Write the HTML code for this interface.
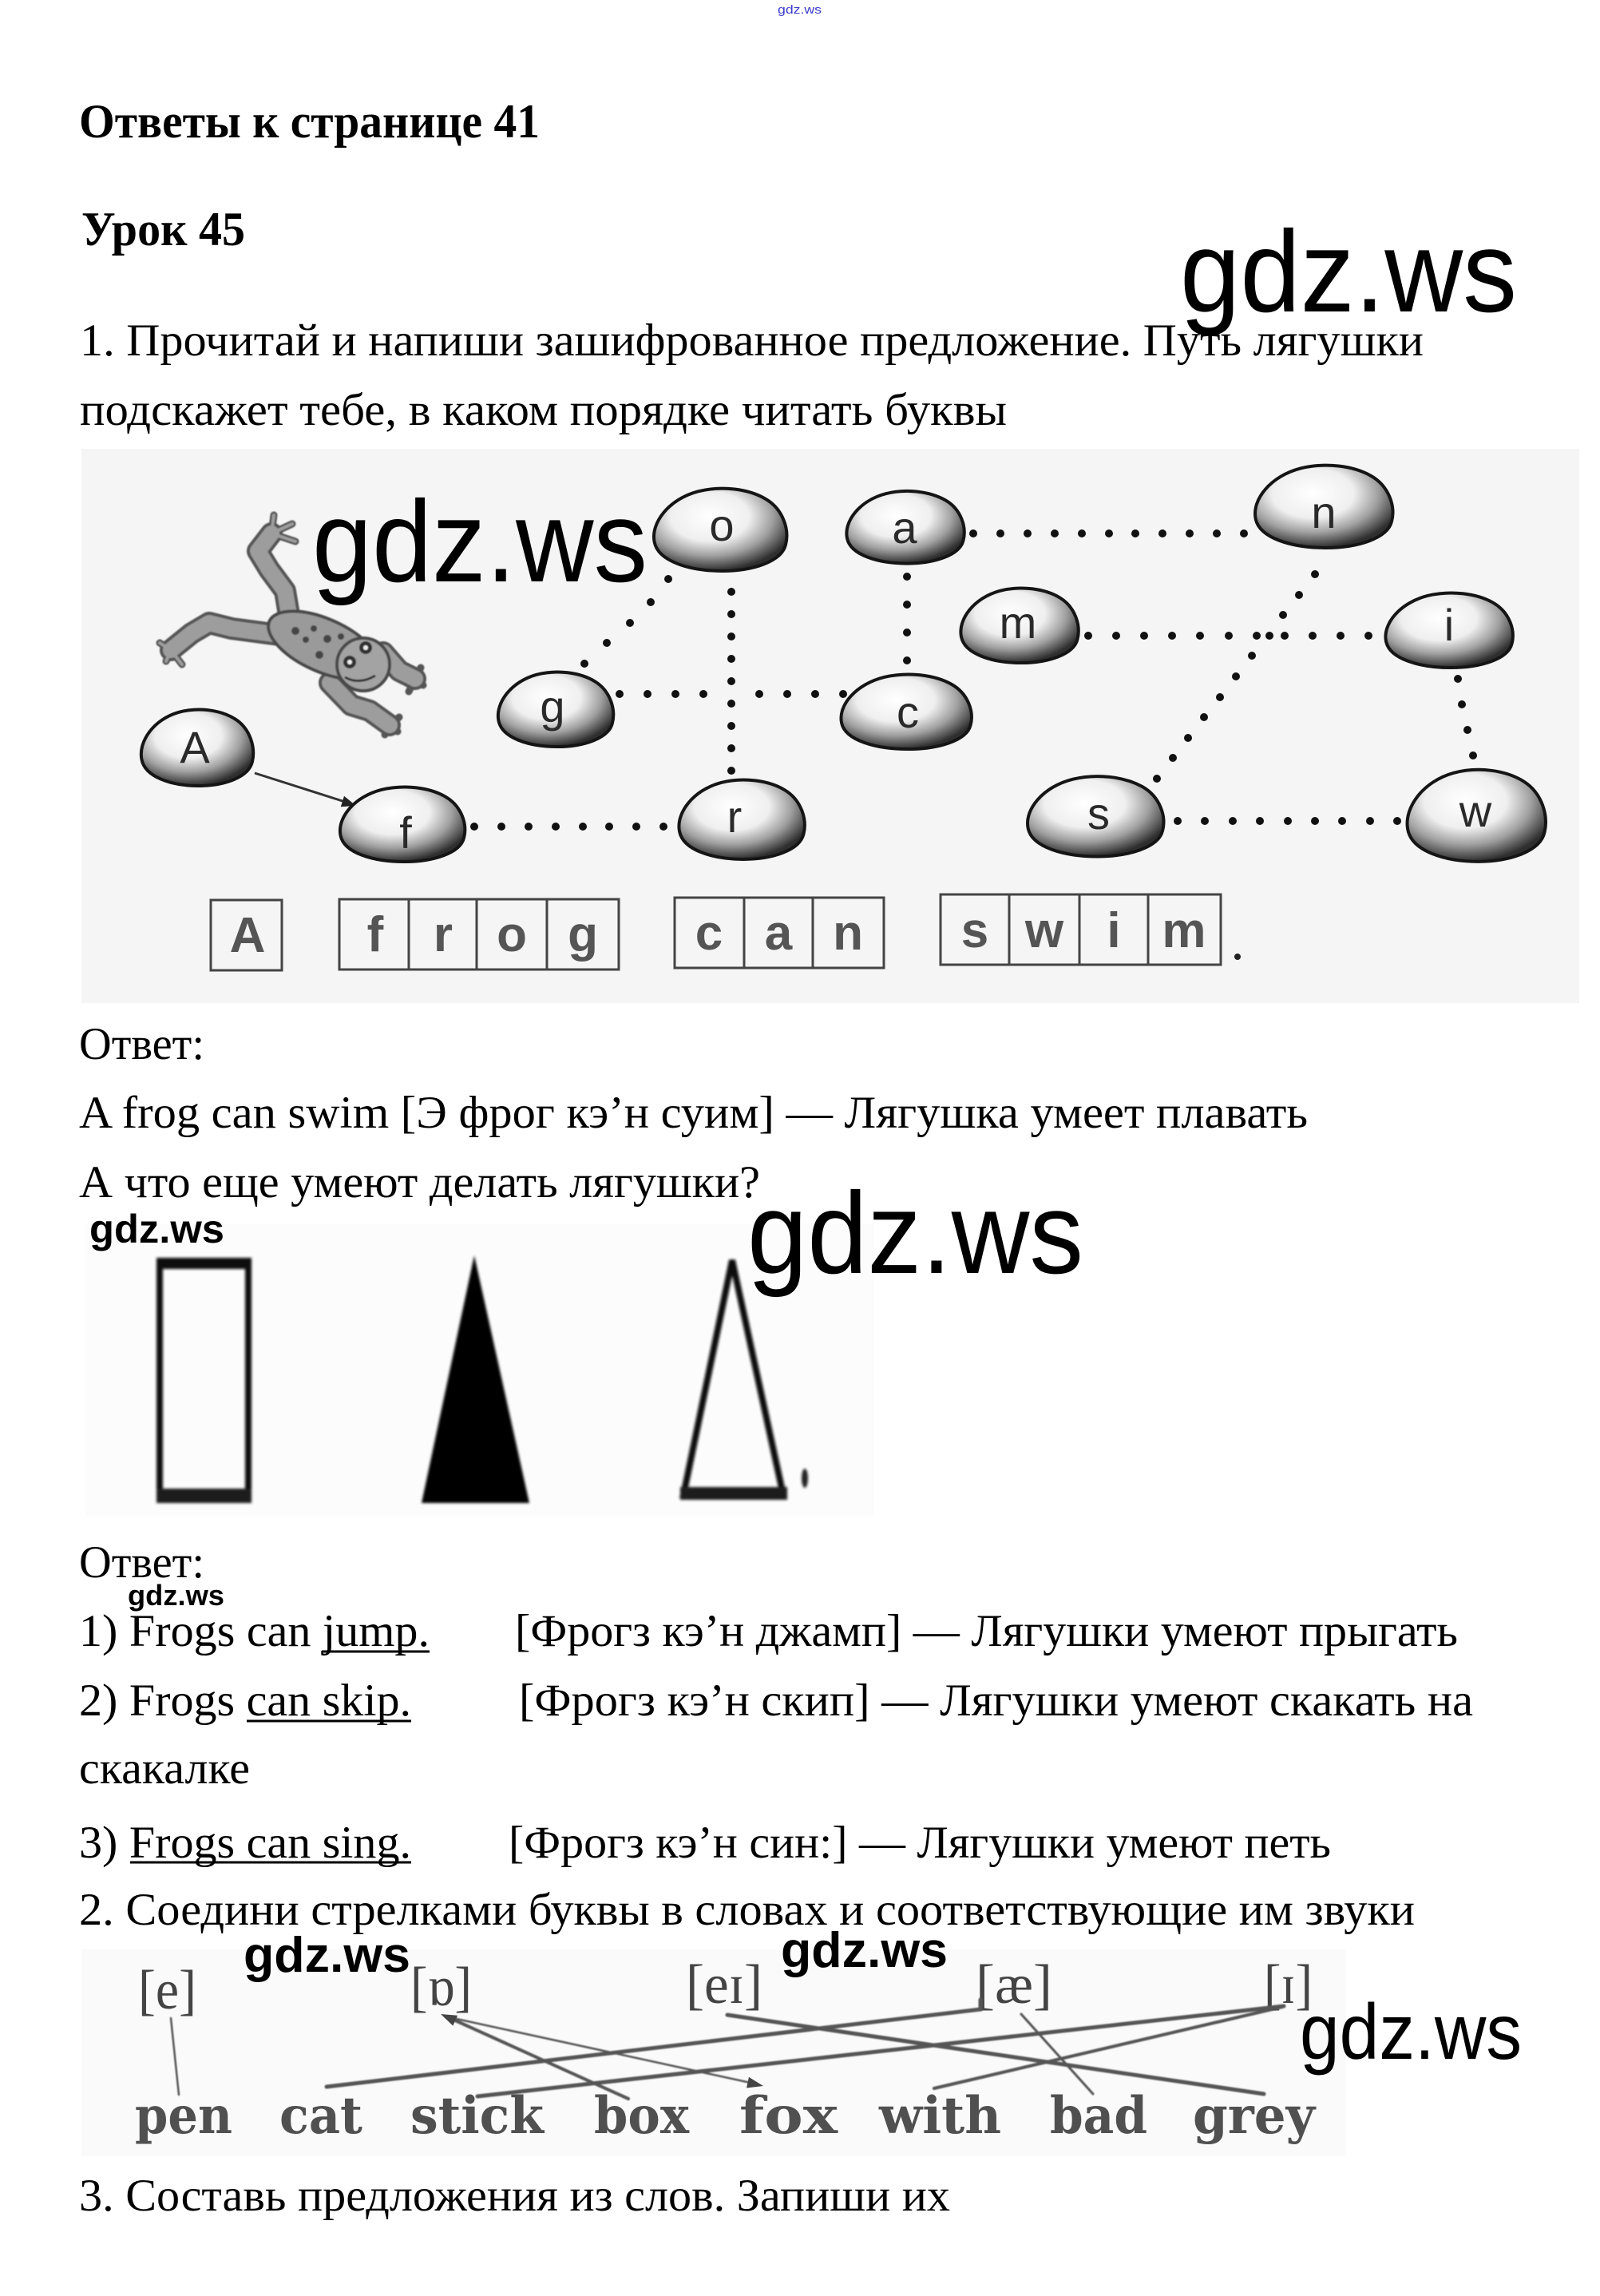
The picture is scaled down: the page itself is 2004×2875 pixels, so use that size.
<!DOCTYPE html>
<html>
<head>
<meta charset="utf-8">
<style>
html,body{margin:0;padding:0;background:#fff;}
svg{display:block;}
.t{font-family:"Liberation Serif","DejaVu Serif",serif;font-size:57px;fill:#000;}
.b{font-family:"Liberation Serif","DejaVu Serif",serif;font-size:60px;font-weight:bold;fill:#000;}
.wm{font-family:"Liberation Sans","DejaVu Sans",sans-serif;fill:#000;}
.sl{font-family:"Liberation Sans","DejaVu Sans",sans-serif;font-size:56px;fill:#2a2a2a;text-anchor:middle;}
.bl{font-family:"Liberation Sans","DejaVu Sans",sans-serif;font-size:62px;font-weight:bold;fill:#555;text-anchor:middle;}
.ph{font-family:"Liberation Serif","DejaVu Serif",serif;font-size:70px;fill:#444;}
.pw{font-family:"DejaVu Serif","Liberation Serif",serif;font-size:64px;font-weight:bold;fill:#505050;}
</style>
</head>
<body>
<svg xmlns="http://www.w3.org/2000/svg" width="2004" height="2875" viewBox="0 0 2004 2875">
<defs>
<radialGradient id="sg" cx="0.42" cy="0.34" r="0.66">
<stop offset="0" stop-color="#ffffff"/>
<stop offset="0.45" stop-color="#efefef"/>
<stop offset="0.72" stop-color="#a0a0a0"/>
<stop offset="1" stop-color="#2e2e2e"/>
</radialGradient>
<filter id="bl1" x="-5%" y="-5%" width="110%" height="110%"><feGaussianBlur stdDeviation="1.6"/></filter>
<filter id="bl2" x="-5%" y="-5%" width="110%" height="110%"><feGaussianBlur stdDeviation="0.8"/></filter>
</defs>

<rect width="2004" height="2875" fill="#fff"/>

<!-- tiny top watermark -->
<text x="974" y="17" font-family="Liberation Sans, sans-serif" font-size="15" fill="#3a3acc" textLength="55" lengthAdjust="spacingAndGlyphs">gdz.ws</text>

<!-- headings -->
<text class="b" x="99" y="172" textLength="577" lengthAdjust="spacingAndGlyphs">Ответы к странице 41</text>
<text class="b" x="102" y="307" textLength="205" lengthAdjust="spacingAndGlyphs">Урок 45</text>
<text class="t" x="100" y="445" textLength="1683" lengthAdjust="spacingAndGlyphs">1. Прочитай и напиши зашифрованное предложение. Путь лягушки</text>
<text class="t" x="100" y="532" textLength="1161" lengthAdjust="spacingAndGlyphs">подскажет тебе, в каком порядке читать буквы</text>

<!-- ===== Diagram 1 ===== -->
<rect x="102" y="562" width="1876" height="694" fill="#f5f5f5"/>

<!-- dotted paths -->
<g fill="#111">
<circle cx="1219" cy="668" r="5"/><circle cx="1253" cy="668" r="5"/><circle cx="1287" cy="668" r="5"/><circle cx="1321" cy="668" r="5"/><circle cx="1355" cy="668" r="5"/><circle cx="1389" cy="668" r="5"/><circle cx="1422" cy="668" r="5"/><circle cx="1456" cy="668" r="5"/><circle cx="1490" cy="668" r="5"/><circle cx="1524" cy="668" r="5"/><circle cx="1558" cy="668" r="5"/>
<circle cx="1136" cy="722" r="5"/><circle cx="1136" cy="757" r="5"/><circle cx="1136" cy="792" r="5"/><circle cx="1136" cy="827" r="5"/>
<circle cx="1363" cy="796" r="5"/><circle cx="1398" cy="796" r="5"/><circle cx="1433" cy="796" r="5"/><circle cx="1468" cy="796" r="5"/><circle cx="1503" cy="796" r="5"/><circle cx="1539" cy="796" r="5"/><circle cx="1574" cy="796" r="5"/><circle cx="1609" cy="796" r="5"/><circle cx="1644" cy="796" r="5"/><circle cx="1679" cy="796" r="5"/><circle cx="1714" cy="796" r="5"/>
<circle cx="1647" cy="719" r="5"/><circle cx="1627" cy="745" r="5"/><circle cx="1607" cy="770" r="5"/><circle cx="1590" cy="796" r="5"/><circle cx="1568" cy="821" r="5"/><circle cx="1548" cy="847" r="5"/><circle cx="1528" cy="873" r="5"/><circle cx="1508" cy="898" r="5"/><circle cx="1488" cy="924" r="5"/><circle cx="1469" cy="949" r="5"/><circle cx="1449" cy="975" r="5"/>
<circle cx="1826" cy="850" r="5"/><circle cx="1831" cy="882" r="5"/><circle cx="1838" cy="914" r="5"/><circle cx="1845" cy="946" r="5"/>
<circle cx="1475" cy="1028" r="5"/><circle cx="1509" cy="1028" r="5"/><circle cx="1544" cy="1028" r="5"/><circle cx="1578" cy="1028" r="5"/><circle cx="1613" cy="1028" r="5"/><circle cx="1647" cy="1028" r="5"/><circle cx="1681" cy="1028" r="5"/><circle cx="1716" cy="1028" r="5"/><circle cx="1750" cy="1028" r="5"/>
<circle cx="837" cy="725" r="5"/><circle cx="815" cy="754" r="5"/><circle cx="789" cy="780" r="5"/><circle cx="760" cy="805" r="5"/><circle cx="732" cy="831" r="5"/>
<circle cx="916" cy="741" r="5"/><circle cx="916" cy="769" r="5"/><circle cx="916" cy="797" r="5"/><circle cx="916" cy="825" r="5"/><circle cx="916" cy="853" r="5"/><circle cx="916" cy="881" r="5"/><circle cx="916" cy="909" r="5"/><circle cx="916" cy="937" r="5"/><circle cx="916" cy="965" r="5"/>
<circle cx="776" cy="869" r="5"/><circle cx="811" cy="869" r="5"/><circle cx="846" cy="869" r="5"/><circle cx="881" cy="869" r="5"/><circle cx="951" cy="869" r="5"/><circle cx="986" cy="869" r="5"/><circle cx="1021" cy="869" r="5"/><circle cx="1056" cy="869" r="5"/>
<circle cx="594" cy="1035" r="5"/><circle cx="628" cy="1035" r="5"/><circle cx="662" cy="1035" r="5"/><circle cx="696" cy="1035" r="5"/><circle cx="730" cy="1035" r="5"/><circle cx="763" cy="1035" r="5"/><circle cx="797" cy="1035" r="5"/><circle cx="831" cy="1035" r="5"/>
</g>

<!-- arrow A -> f -->
<line x1="319" y1="968" x2="432" y2="1004" stroke="#333" stroke-width="3"/>
<polygon points="446,1009 431,996.8 426.8,1010.2" fill="#222"/>

<!-- frog -->
<g filter="url(#bl2)">
<g stroke="#555" stroke-linecap="round" stroke-linejoin="round" fill="none" stroke-width="28">
<polyline points="362,770 357,740 337,713 323,690 340,668"/>
<polyline points="350,795 290,787 262,780 240,793 214,814"/>
<polyline points="480,817 500,840 520,850"/>
<polyline points="413,855 440,883 463,890 488,908"/>
</g>
<g stroke="#555" stroke-linecap="round" stroke-width="9" fill="none">
<line x1="340" y1="668" x2="343" y2="645"/><line x1="340" y1="668" x2="366" y2="656"/><line x1="340" y1="668" x2="370" y2="678"/>
<line x1="214" y1="814" x2="200" y2="805"/><line x1="214" y1="814" x2="208" y2="828"/><line x1="214" y1="814" x2="228" y2="832"/>
<line x1="520" y1="850" x2="527" y2="836"/><line x1="520" y1="850" x2="530" y2="858"/><line x1="520" y1="850" x2="512" y2="866"/>
<line x1="488" y1="908" x2="500" y2="898"/><line x1="488" y1="908" x2="498" y2="916"/><line x1="488" y1="908" x2="482" y2="920"/>
</g>
<g stroke="#9d9d9d" stroke-linecap="round" stroke-linejoin="round" fill="none" stroke-width="20">
<polyline points="362,770 357,740 337,713 323,690 340,668"/>
<polyline points="350,795 290,787 262,780 240,793 214,814"/>
<polyline points="480,817 500,840 520,850"/>
<polyline points="413,855 440,883 463,890 488,908"/>
</g>
<g stroke="#9d9d9d" stroke-linecap="round" stroke-width="4" fill="none">
<line x1="340" y1="668" x2="343" y2="645"/><line x1="340" y1="668" x2="366" y2="656"/><line x1="340" y1="668" x2="370" y2="678"/>
<line x1="214" y1="814" x2="200" y2="805"/><line x1="214" y1="814" x2="208" y2="828"/><line x1="214" y1="814" x2="228" y2="832"/>
</g>
<ellipse cx="405" cy="808" rx="74" ry="33" transform="rotate(24 405 808)" fill="#9a9a9a" stroke="#4a4a4a" stroke-width="4"/>
<circle cx="455" cy="832" r="33" fill="#a3a3a3" stroke="#4a4a4a" stroke-width="4"/>
<g fill="#444">
<circle cx="370" cy="790" r="5"/><circle cx="393" cy="787" r="4"/><circle cx="410" cy="800" r="5"/><circle cx="383" cy="801" r="4"/><circle cx="400" cy="820" r="5"/><circle cx="427" cy="797" r="4"/>
</g>
<circle cx="458" cy="811" r="8" fill="#333"/><circle cx="458" cy="811" r="3" fill="#eee"/>
<circle cx="438" cy="829" r="8" fill="#333"/><circle cx="438" cy="829" r="3" fill="#eee"/>
<path d="M432,848 Q450,858 470,846" stroke="#333" stroke-width="3" fill="none"/>
</g>

<!-- stones -->
<g fill="url(#sg)" stroke="#151515" stroke-width="4">
<path vector-effect="non-scaling-stroke" transform="translate(246,936) scale(1.40,0.98)" d="M-49,15 C-52,-8 -38,-36 -16,-45 C2,-52 22,-48 35,-36 C48,-24 53,0 50,18 C47,38 25,49 2,49 C-22,49 -46,38 -49,15 Z"/>
<path vector-effect="non-scaling-stroke" transform="translate(901,663) scale(1.66,1.06)" d="M-49,15 C-52,-8 -38,-36 -16,-45 C2,-52 22,-48 35,-36 C48,-24 53,0 50,18 C47,38 25,49 2,49 C-22,49 -46,38 -49,15 Z"/>
<path vector-effect="non-scaling-stroke" transform="translate(1133,660) scale(1.47,0.93)" d="M-49,15 C-52,-8 -38,-36 -16,-45 C2,-52 22,-48 35,-36 C48,-24 53,0 50,18 C47,38 25,49 2,49 C-22,49 -46,38 -49,15 Z"/>
<path vector-effect="non-scaling-stroke" transform="translate(1657,634) scale(1.72,1.06)" d="M-49,15 C-52,-8 -38,-36 -16,-45 C2,-52 22,-48 35,-36 C48,-24 53,0 50,18 C47,38 25,49 2,49 C-22,49 -46,38 -49,15 Z"/>
<path vector-effect="non-scaling-stroke" transform="translate(1276,783) scale(1.47,0.96)" d="M-49,15 C-52,-8 -38,-36 -16,-45 C2,-52 22,-48 35,-36 C48,-24 53,0 50,18 C47,38 25,49 2,49 C-22,49 -46,38 -49,15 Z"/>
<path vector-effect="non-scaling-stroke" transform="translate(1814,789) scale(1.59,0.96)" d="M-49,15 C-52,-8 -38,-36 -16,-45 C2,-52 22,-48 35,-36 C48,-24 53,0 50,18 C47,38 25,49 2,49 C-22,49 -46,38 -49,15 Z"/>
<path vector-effect="non-scaling-stroke" transform="translate(695,888) scale(1.44,0.96)" d="M-49,15 C-52,-8 -38,-36 -16,-45 C2,-52 22,-48 35,-36 C48,-24 53,0 50,18 C47,38 25,49 2,49 C-22,49 -46,38 -49,15 Z"/>
<path vector-effect="non-scaling-stroke" transform="translate(1134,891) scale(1.63,0.96)" d="M-49,15 C-52,-8 -38,-36 -16,-45 C2,-52 22,-48 35,-36 C48,-24 53,0 50,18 C47,38 25,49 2,49 C-22,49 -46,38 -49,15 Z"/>
<path vector-effect="non-scaling-stroke" transform="translate(503,1032) scale(1.56,0.96)" d="M-49,15 C-52,-8 -38,-36 -16,-45 C2,-52 22,-48 35,-36 C48,-24 53,0 50,18 C47,38 25,49 2,49 C-22,49 -46,38 -49,15 Z"/>
<path vector-effect="non-scaling-stroke" transform="translate(928,1026) scale(1.57,1.02)" d="M-49,15 C-52,-8 -38,-36 -16,-45 C2,-52 22,-48 35,-36 C48,-24 53,0 50,18 C47,38 25,49 2,49 C-22,49 -46,38 -49,15 Z"/>
<path vector-effect="non-scaling-stroke" transform="translate(1371,1022) scale(1.70,1.03)" d="M-49,15 C-52,-8 -38,-36 -16,-45 C2,-52 22,-48 35,-36 C48,-24 53,0 50,18 C47,38 25,49 2,49 C-22,49 -46,38 -49,15 Z"/>
<path vector-effect="non-scaling-stroke" transform="translate(1848,1021) scale(1.73,1.18)" d="M-49,15 C-52,-8 -38,-36 -16,-45 C2,-52 22,-48 35,-36 C48,-24 53,0 50,18 C47,38 25,49 2,49 C-22,49 -46,38 -49,15 Z"/>
</g>

<!-- stone letters -->
<text class="sl" x="244" y="955">A</text>
<text class="sl" x="904" y="677">o</text>
<text class="sl" x="1133" y="680">a</text>
<text class="sl" x="1658" y="661">n</text>
<text class="sl" x="1275" y="799">m</text>
<text class="sl" x="1815" y="802">i</text>
<text class="sl" x="692" y="904">g</text>
<text class="sl" x="1137" y="911">c</text>
<text class="sl" x="508" y="1062">f</text>
<text class="sl" x="920" y="1042">r</text>
<text class="sl" x="1376" y="1038">s</text>
<text class="sl" x="1848" y="1035">w</text>

<!-- answer boxes -->
<g fill="none" stroke="#444" stroke-width="3">
<rect x="264" y="1127" width="89" height="88"/>
<rect x="425" y="1126" width="350" height="88"/>
<line x1="512" y1="1126" x2="512" y2="1214"/><line x1="597" y1="1126" x2="597" y2="1214"/><line x1="685" y1="1126" x2="685" y2="1214"/>
<rect x="845" y="1124" width="262" height="88"/>
<line x1="932" y1="1124" x2="932" y2="1212"/><line x1="1018" y1="1124" x2="1018" y2="1212"/>
<rect x="1178" y="1120" width="351" height="88"/>
<line x1="1264" y1="1120" x2="1264" y2="1208"/><line x1="1352" y1="1120" x2="1352" y2="1208"/><line x1="1438" y1="1120" x2="1438" y2="1208"/>
</g>
<circle cx="1550" cy="1198" r="4" fill="#222"/>
<text class="bl" x="310" y="1192">A</text>
<text class="bl" x="470" y="1191">f</text>
<text class="bl" x="555" y="1191">r</text>
<text class="bl" x="641" y="1191">o</text>
<text class="bl" x="730" y="1191">g</text>
<text class="bl" x="888" y="1189">c</text>
<text class="bl" x="975" y="1189">a</text>
<text class="bl" x="1062" y="1189">n</text>
<text class="bl" x="1221" y="1186">s</text>
<text class="bl" x="1308" y="1186">w</text>
<text class="bl" x="1395" y="1186">i</text>
<text class="bl" x="1483" y="1186">m</text>

<!-- answer text 1 -->
<text class="t" x="99" y="1326" textLength="157" lengthAdjust="spacingAndGlyphs">Ответ:</text>
<text class="t" x="99" y="1412" textLength="1539" lengthAdjust="spacingAndGlyphs">A frog can swim [Э фрог кэ’н суим] — Лягушка умеет плавать</text>
<text class="t" x="99" y="1499" textLength="853" lengthAdjust="spacingAndGlyphs">А что еще умеют делать лягушки?</text>

<!-- ===== Shapes image ===== -->
<rect x="107" y="1533" width="988" height="365" fill="#fcfcfc"/>
<g filter="url(#bl1)">
<rect x="200" y="1579" width="111" height="297" fill="none" stroke="#111" stroke-width="8"/>
<rect x="196" y="1575" width="119" height="14" fill="#111"/>
<rect x="196" y="1864" width="119" height="18" fill="#1a1a1a"/>
<polygon points="594,1572 528,1882 663,1882" fill="#000"/>
<polygon points="917,1578 856,1872 981,1872" fill="none" stroke="#111" stroke-width="8" stroke-linejoin="miter"/>
<rect x="852" y="1862" width="134" height="16" fill="#1a1a1a"/>
<ellipse cx="1008" cy="1851" rx="4" ry="12" fill="#222"/>
</g>

<!-- answer text 2 -->
<text class="t" x="99" y="1975" textLength="157" lengthAdjust="spacingAndGlyphs">Ответ:</text>
<text class="t" x="99" y="2061" textLength="439" lengthAdjust="spacingAndGlyphs">1) Frogs can jump.</text>
<text class="t" x="645" y="2061" textLength="1181" lengthAdjust="spacingAndGlyphs">[Фрогз кэ’н джамп] — Лягушки умеют прыгать</text>
<text class="t" x="99" y="2148" textLength="416" lengthAdjust="spacingAndGlyphs">2) Frogs can skip.</text>
<text class="t" x="650" y="2148" textLength="1195" lengthAdjust="spacingAndGlyphs">[Фрогз кэ’н скип] — Лягушки умеют скакать на</text>
<text class="t" x="99" y="2233" textLength="214" lengthAdjust="spacingAndGlyphs">скакалке</text>
<text class="t" x="99" y="2326" textLength="416" lengthAdjust="spacingAndGlyphs">3) Frogs can sing.</text>
<text class="t" x="637" y="2326" textLength="1030" lengthAdjust="spacingAndGlyphs">[Фрогз кэ’н син:] — Лягушки умеют петь</text>
<g stroke="#000" stroke-width="3">
<line x1="403" y1="2068" x2="538" y2="2068"/>
<line x1="309" y1="2155" x2="515" y2="2155"/>
<line x1="163" y1="2332" x2="515" y2="2332"/>
</g>
<text class="t" x="99" y="2410" textLength="1673" lengthAdjust="spacingAndGlyphs">2. Соедини стрелками буквы в словах и соответствующие им звуки</text>

<!-- ===== Phonetic image ===== -->
<rect x="102" y="2441" width="1584" height="259" fill="#fafafa"/>
<text class="ph" x="173" y="2515" textLength="73" lengthAdjust="spacingAndGlyphs">[e]</text>
<text class="ph" x="514" y="2511" textLength="77" lengthAdjust="spacingAndGlyphs">[ɒ]</text>
<text class="ph" x="859" y="2508" textLength="96" lengthAdjust="spacingAndGlyphs">[eɪ]</text>
<text class="ph" x="1222" y="2508" textLength="96" lengthAdjust="spacingAndGlyphs">[æ]</text>
<text class="ph" x="1583" y="2508" textLength="61" lengthAdjust="spacingAndGlyphs">[ɪ]</text>

<g stroke="#555" stroke-linecap="round" fill="none" filter="url(#bl2)">
<line x1="214" y1="2527" x2="224" y2="2623" stroke-width="2.5"/>
<polyline points="409,2613 1228,2516 1228,2504" stroke-width="5"/>
<line x1="598" y1="2625" x2="1608" y2="2512" stroke-width="5"/>
<line x1="787" y1="2628" x2="568" y2="2529" stroke-width="4"/>
<line x1="558" y1="2525" x2="940" y2="2608" stroke-width="2.5"/>
<line x1="911" y1="2523" x2="1583" y2="2622" stroke-width="5"/>
<line x1="1279" y1="2522" x2="1369" y2="2622" stroke-width="3"/>
<line x1="1170" y1="2615" x2="1606" y2="2513" stroke-width="4"/>
</g>
<polygon points="552,2522 573.1,2523.8 567.3,2536.6" fill="#444"/>
<polygon points="956,2612 935,2614.5 938,2600.9" fill="#444"/>

<text class="pw" x="169" y="2671" textLength="122" lengthAdjust="spacingAndGlyphs">pen</text>
<text class="pw" x="350" y="2671" textLength="104" lengthAdjust="spacingAndGlyphs">cat</text>
<text class="pw" x="514" y="2671" textLength="167" lengthAdjust="spacingAndGlyphs">stick</text>
<text class="pw" x="744" y="2671" textLength="119" lengthAdjust="spacingAndGlyphs">box</text>
<text class="pw" x="926" y="2671" textLength="123" lengthAdjust="spacingAndGlyphs">fox</text>
<text class="pw" x="1101" y="2671" textLength="153" lengthAdjust="spacingAndGlyphs">with</text>
<text class="pw" x="1315" y="2671" textLength="122" lengthAdjust="spacingAndGlyphs">bad</text>
<text class="pw" x="1494" y="2671" textLength="153" lengthAdjust="spacingAndGlyphs">grey</text>

<text class="t" x="99" y="2768" textLength="1091" lengthAdjust="spacingAndGlyphs">3. Составь предложения из слов. Запиши их</text>

<!-- ===== Watermarks ===== -->
<text class="wm" x="1478" y="390" font-size="145" textLength="422" lengthAdjust="spacingAndGlyphs">gdz.ws</text>
<text class="wm" x="391" y="728" font-size="145" textLength="420" lengthAdjust="spacingAndGlyphs">gdz.ws</text>
<text class="wm" x="936" y="1594" font-size="145" textLength="421" lengthAdjust="spacingAndGlyphs">gdz.ws</text>
<text class="wm" x="112" y="1556" font-size="50" font-weight="bold" textLength="169" lengthAdjust="spacingAndGlyphs">gdz.ws</text>
<text class="wm" x="160" y="2010" font-size="36" font-weight="bold" textLength="121" lengthAdjust="spacingAndGlyphs">gdz.ws</text>
<text class="wm" x="305" y="2469" font-size="62" font-weight="bold" textLength="209" lengthAdjust="spacingAndGlyphs">gdz.ws</text>
<text class="wm" x="978" y="2463" font-size="62" font-weight="bold" textLength="209" lengthAdjust="spacingAndGlyphs">gdz.ws</text>
<text class="wm" x="1628" y="2578" font-size="98" textLength="278" lengthAdjust="spacingAndGlyphs">gdz.ws</text>
</svg>
</body>
</html>
